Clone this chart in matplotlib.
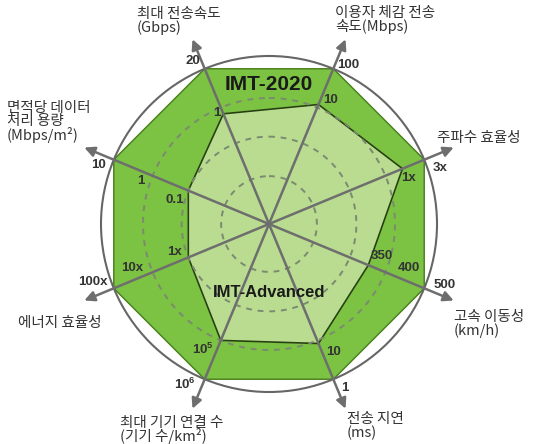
import matplotlib.pyplot as plt
import numpy as np

plt.rcParams['mathtext.fontset'] = 'custom'
plt.rcParams['mathtext.rm'] = 'Liberation Sans'
plt.rcParams['mathtext.bf'] = 'Liberation Sans:bold'

W, H = 534, 444

# ------ data (clockwise from the top-left spoke) -----
categories = ['최대 전송속도\n(Gbps)', '이용자 체감 전송\n속도(Mbps)', '주파수 효율성',
              '고속 이동성\n(km/h)', '전송 지연\n(ms)', '최대 기기 연결 수\n(기기 수/km²)',
              '에너지 효율성', '면적당 데이터\n처리 용량\n(Mbps/m²)']
imt2020_ticks = ['20', '100', '3x', '500', '1', r'$\mathbf{10^6}$', '100x', '10']
imt_adv_ticks = ['1', '10', '1x', '350', '10', r'$\mathbf{10^5}$', '1x', '0.1']
mid_ticks = ['', '', '', '400', '', '', '10x', '1']

# relative score on each spoke (outer circle = 1)
imt2020_score = [1.0, 1.0, 1.0, 1.0, 1.0, 1.0, 1.0, 1.0]
imt_adv_score = [0.71, 0.77, 0.86, 0.64, 0.77, 0.75, 0.52, 0.52]
mid_score = [0, 0, 0, 0.86, 0, 0, 0.85, 0.80]
# ----------------------------------------------------

# label layout (pixel offsets: right, down)
outer_off = [(-12, -8), (15, -4), (16, 8), (20, -3), (12, 9), (-20, 5), (-21, -6), (-15, 5)]
inner_off = [(-7, -1), (12, -4), (6, 9), (13, -9), (15, 8), (-18, 9), (-14, -5), (-14, 9)]
mid_off = [(0, 0), (0, 0), (0, 0), (6, -11), (0, 0), (0, 0), (-5, -11), (-4, 8)]
cat_pos = [(137, 21), (335, 20), (437, 138), (454, 324), (347, 426), (120, 430), (18, 323), (7, 122)]

DARK_GREEN = '#7cc243'
LIGHT_GREEN = '#b9dc90'
SPOKE = '#6e6e6e'
TICK_FONT = dict(family=['Liberation Sans', 'DejaVu Sans'], fontweight='bold', fontsize=9.5, color='#333333')

theta = np.deg2rad(-22.5 + 45 * np.arange(len(categories)))
theta_c = np.append(theta, theta[0])

fig = plt.figure(figsize=(W / 100, H / 100), dpi=100)
cx, cy, rad = 269, 224, 168
ax = fig.add_axes([(cx - rad) / W, (H - cy - rad) / H, 2 * rad / W, 2 * rad / H], projection='polar')
ax.set_theta_zero_location('N')
ax.set_theta_direction(-1)
ax.set_ylim(0, 1)
ax.set_xticks([])
ax.set_yticks([])
ax.grid(False)
ax.spines['polar'].set_color('#666666')
ax.spines['polar'].set_linewidth(1.5)

# polygons
r_out = np.append(imt2020_score, imt2020_score[0])
r_in = np.append(imt_adv_score, imt_adv_score[0])
ax.fill(theta_c, r_out, color=DARK_GREEN, zorder=1)
ax.plot(theta_c, r_out, color='#4c7f22', lw=1.0, zorder=1.5)
ax.fill(theta_c, r_in, color=LIGHT_GREEN, zorder=2)
ax.plot(theta_c, r_in, color='#25410f', lw=1.2, zorder=2.5)

# dashed rings
ring = np.linspace(0, 2 * np.pi, 300)
for r in [0.285, 0.52, 0.75]:
    ax.plot(ring, np.full_like(ring, r), color='#7b8a70', lw=1.4, ls=(0, (3, 3)), zorder=3)

# spokes with arrows
for t in theta:
    ax.annotate('', xy=(t, 1.19), xytext=(0, 0), annotation_clip=False,
                arrowprops=dict(arrowstyle='-|>', mutation_scale=15, lw=1.8,
                                color=SPOKE, shrinkA=0, shrinkB=0), zorder=4)

# tick labels
for i, t in enumerate(theta):
    ax.annotate(imt2020_ticks[i], xy=(t, imt2020_score[i]), xytext=(outer_off[i][0], -outer_off[i][1]),
                textcoords='offset pixels', ha='center', va='center', annotation_clip=False, zorder=5, **TICK_FONT)
    ax.annotate(imt_adv_ticks[i], xy=(t, imt_adv_score[i]), xytext=(inner_off[i][0], -inner_off[i][1]),
                textcoords='offset pixels', ha='center', va='center', annotation_clip=False, zorder=5, **TICK_FONT)
    if mid_ticks[i]:
        ax.annotate(mid_ticks[i], xy=(t, mid_score[i]), xytext=(mid_off[i][0], -mid_off[i][1]),
                    textcoords='offset pixels', ha='center', va='center', annotation_clip=False, zorder=5, **TICK_FONT)

# series names
ax.text(0, 0.83, 'IMT-2020', ha='center', va='center', fontsize=15, fontweight='bold',
        family=['Liberation Sans', 'DejaVu Sans'], color='#1a1a1a', zorder=5)
ax.text(np.pi, 0.41, 'IMT-Advanced', ha='center', va='center', fontsize=12, fontweight='bold',
        family=['Liberation Sans', 'DejaVu Sans'], color='#1a1a1a', zorder=5)

# category labels
for (x, y), lab in zip(cat_pos, categories):
    fig.text(x / W, 1 - y / H, lab, ha='left', va='center', fontsize=10.5,
             family=['Noto Sans CJK KR', 'DejaVu Sans'], color='#333333', linespacing=0.92)

plt.savefig('out.png', dpi=100)
